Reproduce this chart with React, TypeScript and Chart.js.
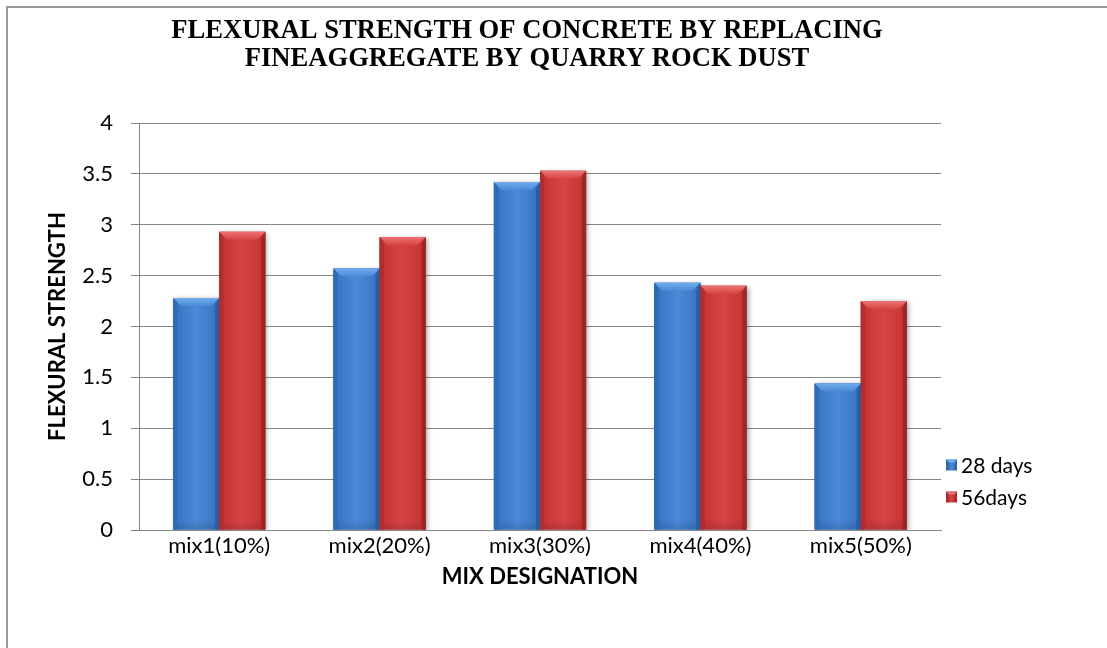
import React, { useEffect, useRef } from "react";
import { Chart, registerables } from "chart.js";

Chart.register(...registerables);

const categories = ["mix1(10%)", "mix2(20%)", "mix3(30%)", "mix4(40%)", "mix5(50%)"];
const days28 = [2.28, 2.57, 3.42, 2.43, 1.44];
const days56 = [2.93, 2.88, 3.53, 2.4, 2.25];
const seriesNames = ["28 days", "56days"];
const titleLines = [
  "FLEXURAL STRENGTH OF CONCRETE BY REPLACING",
  "FINEAGGREGATE BY QUARRY ROCK DUST",
];
const yAxisTitle = "FLEXURAL STRENGTH";
const xAxisTitle = "MIX DESIGNATION";

const LABEL_FONT = "Lato, 'Noto Sans', sans-serif";
const TITLE_FONT = "bold 26.6px 'Liberation Serif', 'Times New Roman', serif";
const GRID = "#868686";

// shading for the bevelled bars: edge, body, highlight, top facet
const palettes = [
  { edge: "#2a5da3", body: "#3a78c6", light: "#4a8ad6", top: "#72aced", side: "#316ab4" },
  { edge: "#9c2626", body: "#c83636", light: "#d84444", top: "#ec7272", side: "#b02e2e" },
];

const bevelPlugin = {
  id: "bevel",
  beforeDatasetsDraw(chart: any) {
    const ctx = chart.ctx;
    ctx.save();
    ctx.shadowColor = "rgba(0,0,0,0.35)";
    ctx.shadowBlur = 5;
    ctx.shadowOffsetX = 2;
    ctx.shadowOffsetY = 1;
  },
  afterDatasetsDraw(chart: any) {
    const ctx = chart.ctx;
    ctx.restore();
    chart.data.datasets.forEach((_ds: any, i: number) => {
      const pal = palettes[i];
      chart.getDatasetMeta(i).data.forEach((bar: any) => {
        const { x, y, base, width } = bar.getProps(["x", "y", "base", "width"], true);
        const l = x - width / 2;
        const r = x + width / 2;
        const h = base - y;
        const b = Math.min(8, width / 5, h / 2);
        // body gradient across the bar
        const g = ctx.createLinearGradient(l, 0, r, 0);
        g.addColorStop(0, pal.edge);
        g.addColorStop(0.12, pal.body);
        g.addColorStop(0.5, pal.light);
        g.addColorStop(0.88, pal.body);
        g.addColorStop(1, pal.edge);
        ctx.fillStyle = g;
        ctx.fillRect(l, y, width, h);
        // darker base band
        const gb = ctx.createLinearGradient(0, base - 10, 0, base);
        gb.addColorStop(0, "rgba(0,0,0,0)");
        gb.addColorStop(1, "rgba(0,0,0,0.12)");
        ctx.fillStyle = gb;
        ctx.fillRect(l, base - 10, width, 10);
        // left facet
        ctx.fillStyle = pal.side;
        ctx.beginPath();
        ctx.moveTo(l, y);
        ctx.lineTo(l + b * 0.5, y + b);
        ctx.lineTo(l + b * 0.5, base);
        ctx.lineTo(l, base);
        ctx.closePath();
        ctx.fill();
        // right facet
        ctx.fillStyle = pal.edge;
        ctx.beginPath();
        ctx.moveTo(r, y);
        ctx.lineTo(r - b * 0.5, y + b);
        ctx.lineTo(r - b * 0.5, base);
        ctx.lineTo(r, base);
        ctx.closePath();
        ctx.fill();
        // top facet
        const gt = ctx.createLinearGradient(0, y, 0, y + b);
        gt.addColorStop(0, pal.top);
        gt.addColorStop(1, pal.light);
        ctx.fillStyle = gt;
        ctx.beginPath();
        ctx.moveTo(l, y);
        ctx.lineTo(r, y);
        ctx.lineTo(r - b, y + b);
        ctx.lineTo(l + b, y + b);
        ctx.closePath();
        ctx.fill();
      });
    });
  },
  afterDraw(chart: any) {
    const ctx = chart.ctx;
    const area = chart.chartArea;
    ctx.save();

    // two-line chart heading, centred over the chart frame
    ctx.fillStyle = "#000";
    ctx.font = TITLE_FONT;
    ctx.textAlign = "center";
    ctx.textBaseline = "middle";
    titleLines.forEach((line, k) => ctx.fillText(line, 527, 31 + k * 28));

    // legend to the right of the plot
    const x0 = area.right + 5;
    const ys = [465, 497];
    chart.data.datasets.forEach((ds: any, i: number) => {
      const pal = palettes[i];
      const yc = ys[i];
      const s = 11;
      const g = ctx.createLinearGradient(x0, 0, x0 + s, 0);
      g.addColorStop(0, pal.edge);
      g.addColorStop(0.5, pal.light);
      g.addColorStop(1, pal.edge);
      ctx.fillStyle = g;
      ctx.fillRect(x0, yc - s / 2, s, s);
      ctx.fillStyle = pal.top;
      ctx.beginPath();
      ctx.moveTo(x0, yc - s / 2);
      ctx.lineTo(x0 + s, yc - s / 2);
      ctx.lineTo(x0 + s - 3, yc - s / 2 + 3);
      ctx.lineTo(x0 + 3, yc - s / 2 + 3);
      ctx.closePath();
      ctx.fill();
      ctx.fillStyle = "#000";
      ctx.font = `21px ${LABEL_FONT}`;
      ctx.textBaseline = "middle";
      ctx.textAlign = "left";
      ctx.fillText(ds.label, x0 + s + 4, yc + 1);
    });
    ctx.restore();
  },
};

export default function App() {
  const ref = useRef<HTMLCanvasElement | null>(null);

  useEffect(() => {
    if (!ref.current) return;
    const chart = new Chart(ref.current, {
      type: "bar",
      data: {
        labels: categories,
        datasets: [
          { label: seriesNames[0], data: days28, backgroundColor: palettes[0].body, borderWidth: 0 },
          { label: seriesNames[1], data: days56, backgroundColor: palettes[1].body, borderWidth: 0 },
        ],
      },
      options: {
        animation: false,
        responsive: false,
        maintainAspectRatio: false,
        layout: { padding: { top: 123, left: 45, right: 166, bottom: 50 } },
        datasets: { bar: { categoryPercentage: 0.575, barPercentage: 1 } },
        plugins: {
          legend: { display: false },
          tooltip: { enabled: false },
          title: { display: false },
        },
        scales: {
          x: {
            grid: { display: false },
            border: { display: true, color: GRID, width: 1 },
            ticks: { color: "#000", font: { family: LABEL_FONT, size: 22 }, padding: -5, maxRotation: 0 },
            title: {
              display: true,
              text: xAxisTitle,
              color: "#000",
              font: { family: LABEL_FONT, size: 22, weight: "bold" },
              padding: { top: 0, bottom: 8 },
            },
            afterFit: (scale: any) => {
              scale.height = 68;
            },
          },
          y: {
            min: 0,
            max: 4,
            ticks: {
              stepSize: 0.5,
              color: "#000",
              font: { family: LABEL_FONT, size: 22 },
              padding: 18,
              callback: (v: any) => String(v),
            },
            grid: { color: GRID, tickLength: 8, lineWidth: 1 },
            border: { display: true, color: GRID, width: 1 },
            title: {
              display: true,
              text: yAxisTitle,
              color: "#000",
              font: { family: LABEL_FONT, size: 22, weight: "bold" },
              padding: { top: 0, bottom: 0 },
            },
            afterFit: (scale: any) => {
              scale.width = 94;
            },
          },
        },
      },
      plugins: [bevelPlugin],
    });
    return () => chart.destroy();
  }, []);

  return (
    <div style={{ position: "fixed", left: 0, top: 0, width: 1107, height: 648, background: "#fff", overflow: "hidden" }}>
      <div
        style={{
          position: "absolute",
          left: 6,
          top: 6,
          width: 1200,
          height: 800,
          border: "2px solid #9a9a9a",
        }}
      />
      <canvas ref={ref} width={1107} height={648} style={{ position: "absolute", left: 0, top: 0, width: 1107, height: 648 }} />
    </div>
  );
}
